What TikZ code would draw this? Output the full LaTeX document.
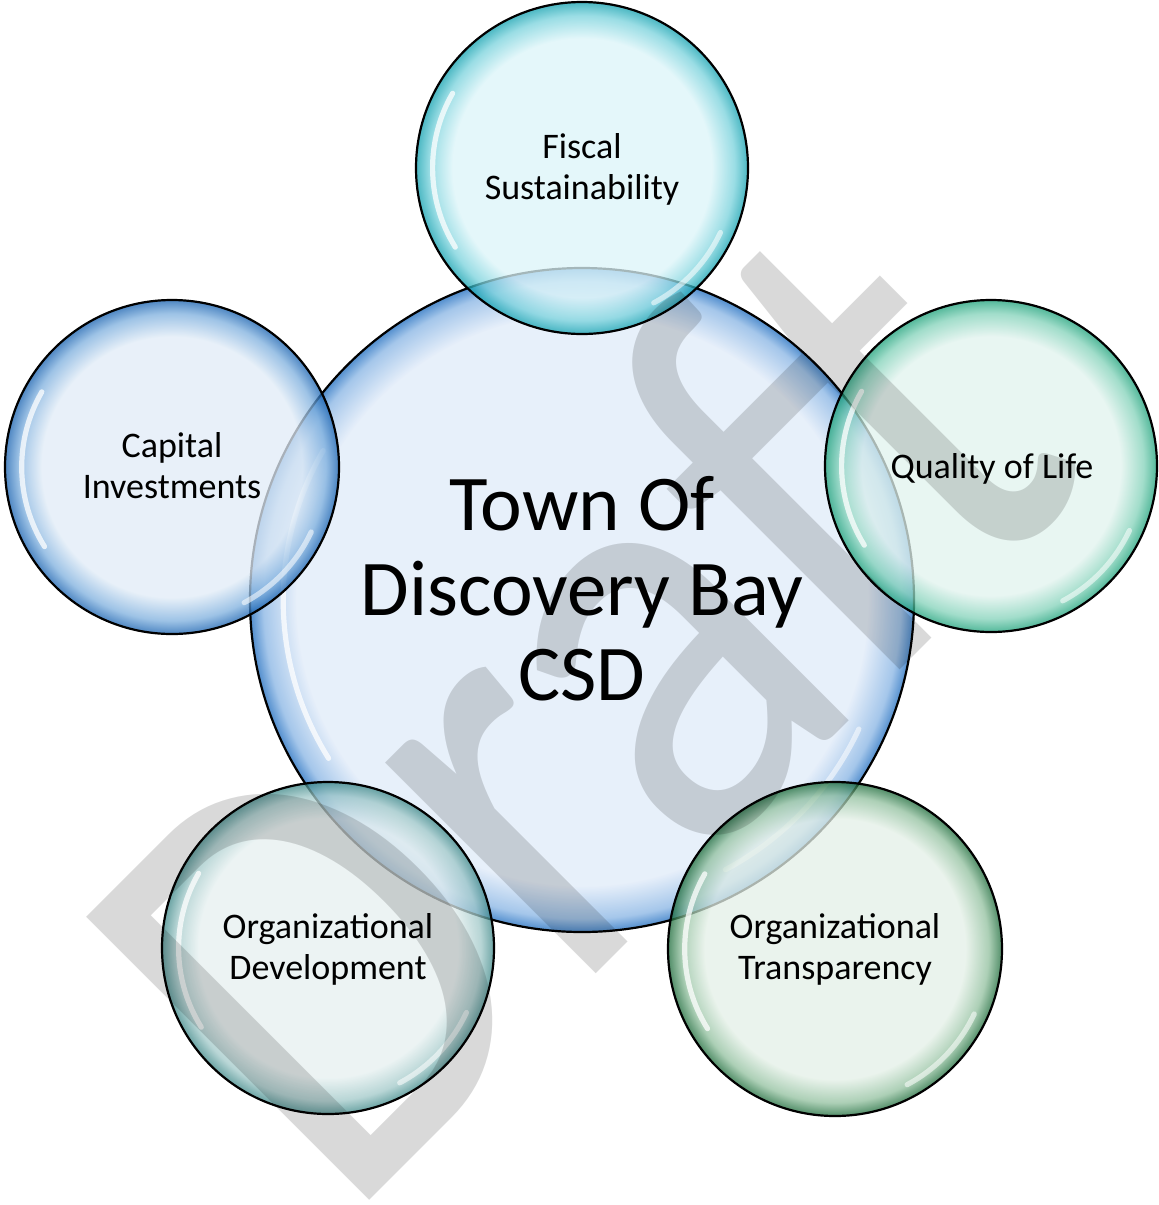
\documentclass[tikz,border=0pt]{standalone}
\usepackage{fontspec}
\setmainfont{Carlito}
\usepackage{graphicx}
\colorlet{bubin}{white}\colorlet{bubmid}{gray}\colorlet{bubout}{black}
\pgfdeclareradialshading[bubin,bubmid,bubout]{bubble}{\pgfpointorigin}{color(0bp)=(bubin); color(19.5bp)=(bubin); color(23bp)=(bubmid); color(25bp)=(bubout); color(50bp)=(bubout)}
\pgfdeclareradialshading[bubin,bubmid,bubout]{bubbleb}{\pgfpointorigin}{color(0bp)=(bubin); color(21.5bp)=(bubin); color(24bp)=(bubmid); color(25bp)=(bubout); color(50bp)=(bubout)}
% center
\definecolor{cenin}{RGB}{224,235,249}\definecolor{cenmid}{RGB}{135,180,228}\definecolor{cenout}{RGB}{25,105,190}
% fiscal
\definecolor{fisin}{RGB}{220,245,249}\definecolor{fismid}{RGB}{120,210,220}\definecolor{fisout}{RGB}{15,160,175}
% capital
\definecolor{capin}{RGB}{225,236,247}\definecolor{capmid}{RGB}{125,175,222}\definecolor{capout}{RGB}{20,95,175}
% quality
\definecolor{quain}{RGB}{225,243,238}\definecolor{quamid}{RGB}{130,210,185}\definecolor{quaout}{RGB}{25,160,120}
% org dev
\definecolor{devin}{RGB}{230,240,240}\definecolor{devmid}{RGB}{160,200,200}\definecolor{devout}{RGB}{60,135,135}
% org trans
\definecolor{train}{RGB}{228,240,231}\definecolor{tramid}{RGB}{145,192,158}\definecolor{traout}{RGB}{25,105,55}
\newcommand\bubcircle[8]{%
  \colorlet{bubin}{#5}\colorlet{bubmid}{#6}\colorlet{bubout}{#7}%
  \node[bub, shading=#8, minimum size=#4*1pt] (#1) at (#2,-#3) {};
  \draw[hl] ([shift={(150:#4*0.45pt)}]#1.center) arc[start angle=150, end angle=212, radius=#4*0.45pt];
  \draw[hl, opacity=0.55] ([shift={(-25:#4*0.46pt)}]#1.center) arc[start angle=-25, end angle=-62, radius=#4*0.46pt];
}
\begin{document}
\begin{tikzpicture}[x=0.5pt,y=0.5pt,
  bub/.style={circle, draw=black, line width=1.1pt, inner sep=0pt, fill opacity=0.75},
  hl/.style={white, line width=2.6pt, line cap=round, opacity=0.75},
  lbl/.style={font=\fontsize{18}{20.5}\selectfont, align=center, text=black, inner sep=0pt},
  big/.style={font=\fontsize{39.5}{42.5}\selectfont, align=center, text=black, inner sep=0pt},
  wm/.style={font=\fontsize{312}{320}\selectfont, text=black, text opacity=0.15, inner sep=0pt}]
\fill[white] (0,0) rectangle (1158,-1205);
\useasboundingbox (0,0) rectangle (1158,-1205);
\bubcircle{cen}{582}{600}{332}{cenin}{cenmid}{cenout}{bubbleb}
\bubcircle{fis}{582}{168}{166}{fisin}{fismid}{fisout}{bubble}
\bubcircle{cap}{172}{467}{167}{capin}{capmid}{capout}{bubble}
\bubcircle{qua}{991}{466}{166}{quain}{quamid}{quaout}{bubble}
\bubcircle{dev}{328}{948}{166}{devin}{devmid}{devout}{bubble}
\bubcircle{tra}{835}{949}{167}{train}{tramid}{traout}{bubble}
\node[wm, rotate=45, anchor=base west] (draft) at (344,-1226) {\scalebox{0.84}[1]{Draft}};
\node[big] (tcen) at (582,-589) {Town Of\\Discovery Bay\\CSD};
\node[lbl] (tfis) at (582,-169) {Fiscal\\Sustainability};
\node[lbl] (tcap) at (172,-466) {Capital\\Investments};
\node[lbl, anchor=base] (tqua) at (992,-478) {Quality of Life};
\node[lbl] (tdev) at (328,-949.5) {Organizational\\Development};
\node[lbl] (ttra) at (835,-949.5) {Organizational\\Transparency};
\end{tikzpicture}
\end{document}
